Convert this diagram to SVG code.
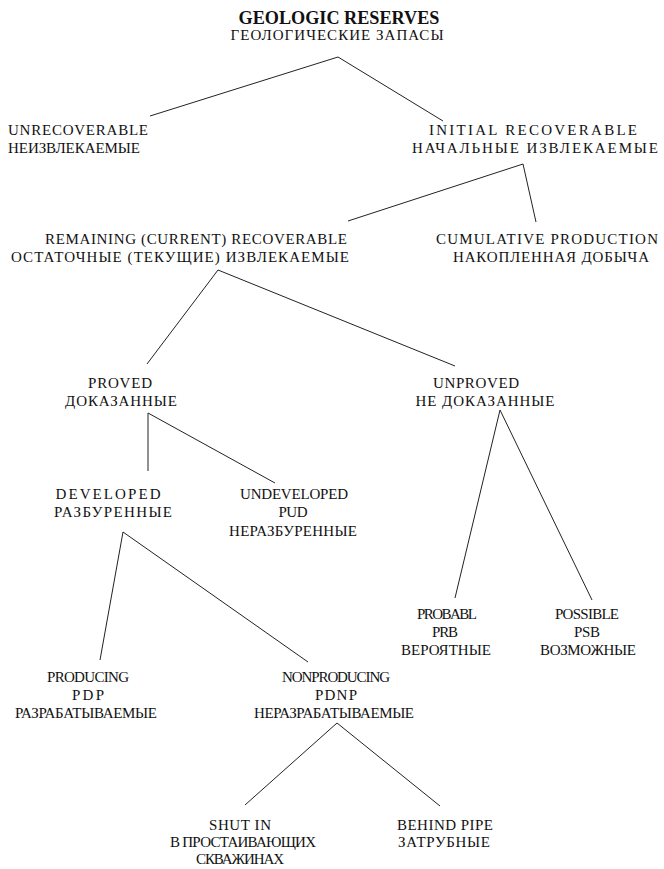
<svg xmlns="http://www.w3.org/2000/svg" width="664" height="869" viewBox="0 0 664 869">
<style>
text{font-family:"Liberation Serif","Times New Roman",serif;font-size:15px;fill:#111;text-anchor:middle}
.t{font-size:18px;font-weight:bold}
.l{text-anchor:start}
#connectors line{stroke:#222;stroke-width:1;fill:none}
</style>
<rect width="664" height="869" fill="#fff"/>
<g id="connectors">
<line x1="338" y1="57" x2="150" y2="116"/>
<line x1="338" y1="57" x2="443" y2="121"/>
<line x1="523" y1="164" x2="348" y2="221"/>
<line x1="523" y1="164" x2="536" y2="222"/>
<line x1="218" y1="270" x2="147" y2="364"/>
<line x1="218" y1="270" x2="455" y2="366"/>
<line x1="148" y1="413" x2="148" y2="471"/>
<line x1="148" y1="413" x2="275" y2="483"/>
<line x1="500" y1="410" x2="455" y2="598"/>
<line x1="500" y1="410" x2="592" y2="600"/>
<line x1="123" y1="532" x2="100" y2="660"/>
<line x1="123" y1="532" x2="308" y2="662"/>
<line x1="337" y1="723" x2="245" y2="805"/>
<line x1="337" y1="723" x2="440" y2="806"/>
</g>
<g id="geologic">
<text class="t" x="339" y="24" textLength="201" lengthAdjust="spacingAndGlyphs">GEOLOGIC RESERVES</text>
<text x="337" y="40" textLength="213" lengthAdjust="spacing">ГЕОЛОГИЧЕСКИЕ ЗАПАСЫ</text>
</g>
<g id="unrecoverable">
<text class="l" x="8" y="135" textLength="140" lengthAdjust="spacing">UNRECOVERABLE</text>
<text class="l" x="8" y="153" textLength="132" lengthAdjust="spacing">НЕИЗВЛЕКАЕМЫЕ</text>
</g>
<g id="initial">
<text x="533" y="135" textLength="208" lengthAdjust="spacing">INITIAL RECOVERABLE</text>
<text x="535" y="153" textLength="246" lengthAdjust="spacing">НАЧАЛЬНЫЕ ИЗВЛЕКАЕМЫЕ</text>
</g>
<g id="remaining">
<text x="196" y="244" textLength="302" lengthAdjust="spacing">REMAINING (CURRENT) RECOVERABLE</text>
<text x="180" y="262" textLength="338" lengthAdjust="spacing">ОСТАТОЧНЫЕ (ТЕКУЩИЕ) ИЗВЛЕКАЕМЫЕ</text>
</g>
<g id="cumulative">
<text x="547" y="244" textLength="222" lengthAdjust="spacing">CUMULATIVE PRODUCTION</text>
<text x="551" y="262" textLength="196" lengthAdjust="spacing">НАКОПЛЕННАЯ ДОБЫЧА</text>
</g>
<g id="proved">
<text x="120" y="388" textLength="64" lengthAdjust="spacing">PROVED</text>
<text x="121" y="406" textLength="112" lengthAdjust="spacing">ДОКАЗАННЫЕ</text>
</g>
<g id="unproved">
<text x="476" y="388" textLength="86" lengthAdjust="spacing">UNPROVED</text>
<text x="485" y="406" textLength="139" lengthAdjust="spacing">НЕ ДОКАЗАННЫЕ</text>
</g>
<g id="developed">
<text x="108" y="499" textLength="105" lengthAdjust="spacing">DEVELOPED</text>
<text x="113" y="517" textLength="118" lengthAdjust="spacing">РАЗБУРЕННЫЕ</text>
</g>
<g id="undeveloped">
<text x="294" y="499" textLength="108" lengthAdjust="spacing">UNDEVELOPED</text>
<text x="293" y="517" textLength="29" lengthAdjust="spacing">PUD</text>
<text x="293" y="536" textLength="128" lengthAdjust="spacing">НЕРАЗБУРЕННЫЕ</text>
</g>
<g id="probable">
<text x="447" y="619" textLength="60" lengthAdjust="spacing">PROBABL</text>
<text x="445" y="637" textLength="26" lengthAdjust="spacing">PRB</text>
<text x="446" y="655" textLength="90" lengthAdjust="spacing">ВЕРОЯТНЫЕ</text>
</g>
<g id="possible">
<text x="587" y="619" textLength="64" lengthAdjust="spacing">POSSIBLE</text>
<text x="587" y="637" textLength="26" lengthAdjust="spacing">PSB</text>
<text x="588" y="655" textLength="96" lengthAdjust="spacing">ВОЗМОЖНЫЕ</text>
</g>
<g id="producing">
<text x="88" y="682" textLength="82" lengthAdjust="spacing">PRODUCING</text>
<text x="88" y="700" textLength="32" lengthAdjust="spacing">PDP</text>
<text x="86" y="718" textLength="142" lengthAdjust="spacing">РАЗРАБАТЫВАЕМЫЕ</text>
</g>
<g id="nonproducing">
<text x="336" y="682" textLength="108" lengthAdjust="spacing">NONPRODUCING</text>
<text x="336" y="700" textLength="42" lengthAdjust="spacing">PDNP</text>
<text x="334" y="718" textLength="160" lengthAdjust="spacing">НЕРАЗРАБАТЫВАЕМЫЕ</text>
</g>
<g id="shutin">
<text x="240" y="830" textLength="62" lengthAdjust="spacing">SHUT IN</text>
<text x="243" y="847" textLength="146" lengthAdjust="spacing">В ПРОСТАИВАЮЩИХ</text>
<text x="240" y="864" textLength="88" lengthAdjust="spacing">СКВАЖИНАХ</text>
</g>
<g id="behindpipe">
<text x="445" y="830" textLength="96" lengthAdjust="spacing">BEHIND PIPE</text>
<text x="444" y="847" textLength="92" lengthAdjust="spacing">ЗАТРУБНЫЕ</text>
</g>
</svg>
